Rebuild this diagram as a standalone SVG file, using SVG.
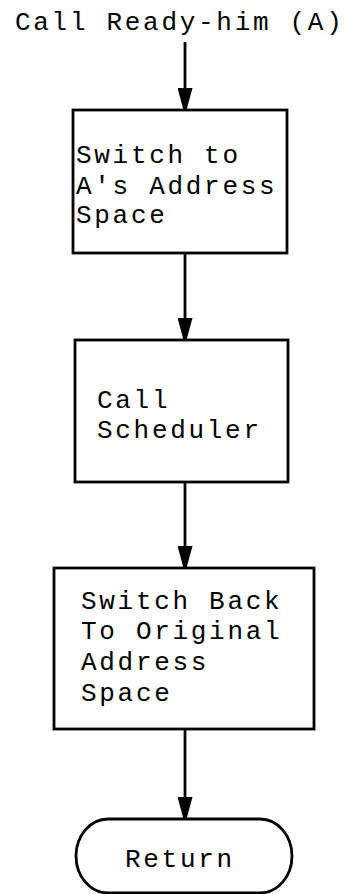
<svg xmlns="http://www.w3.org/2000/svg" width="350" height="894" viewBox="0 0 350 894">
<style>
text{font-family:"Liberation Mono","Courier New",monospace;font-size:26px;letter-spacing:2.7px;fill:#000}
.box{fill:#fff;stroke:#000;stroke-width:2.8}
.conn{stroke:#000;stroke-width:2.8;fill:none}
</style>
<defs>
<marker id="ah" markerWidth="22" markerHeight="15" refX="22" refY="7.5" orient="auto" markerUnits="userSpaceOnUse" viewBox="0 0 22 15">
<path d="M0,0 L22,6 L22,9 L0,15 Z" fill="#000"/>
</marker>
</defs>
<g id="start"><text x="15" y="30">Call Ready-him (A)</text></g>
<g id="connectors">
<line class="conn" x1="185" y1="42" x2="185" y2="110" marker-end="url(#ah)"/>
<line class="conn" x1="185" y1="253" x2="185" y2="340" marker-end="url(#ah)"/>
<line class="conn" x1="185" y1="482" x2="185" y2="568" marker-end="url(#ah)"/>
<line class="conn" x1="185" y1="729" x2="185" y2="819" marker-end="url(#ah)"/>
</g>
<g id="n1"><rect class="box" x="73" y="110" width="214" height="143"/>
<text x="76" y="163">Switch to</text><text x="76" y="194">A's Address</text><text x="76" y="223">Space</text></g>
<g id="n2"><rect class="box" x="75" y="340" width="213" height="142"/>
<text x="97" y="408">Call</text><text x="97" y="438">Scheduler</text></g>
<g id="n3"><rect class="box" x="54" y="568" width="260" height="161"/>
<text x="81" y="609">Switch Back</text><text x="81" y="639">To Original</text><text x="81" y="670">Address</text><text x="81" y="701">Space</text></g>
<g id="n4"><rect class="box" x="76" y="819" width="216" height="74" rx="32" ry="37"/>
<text x="125" y="867">Return</text></g>
</svg>
